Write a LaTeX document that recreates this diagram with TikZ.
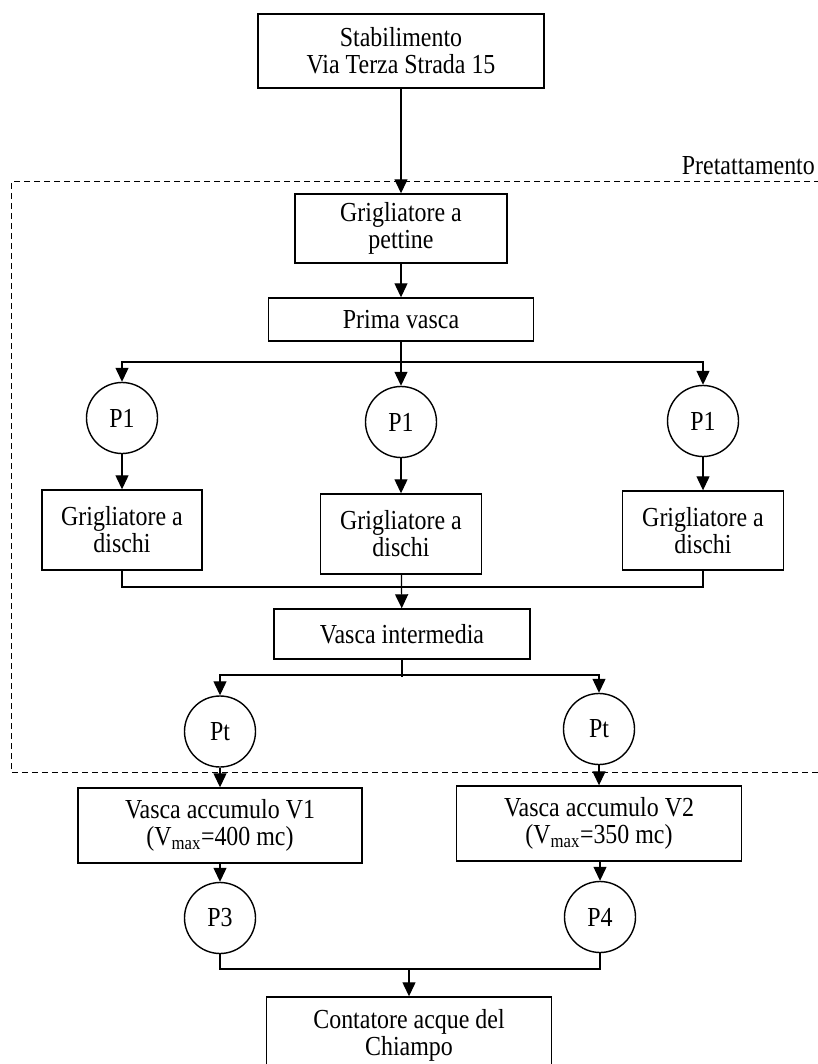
\documentclass[tikz,border=0pt]{standalone}
\usepackage{fontspec}
\setmainfont{Liberation Serif}[FakeStretch=0.87]
\usetikzlibrary{arrows.meta}
\tikzset{
  every node/.style={font=\fontsize{27.5}{27}\selectfont},
  box/.style={draw, line width=1.4pt, rectangle, inner sep=0pt, align=center},
  pump/.style={draw, line width=1.4pt, circle, inner sep=0pt, minimum size=71pt},
  conn/.style={line width=1.2pt},
  arr/.style={conn, -{Triangle[width=13pt,length=14pt]}},
  zone/.style={line width=1pt, dash pattern=on 6pt off 4pt}
}
\begin{document}
\begin{tikzpicture}[x=1pt,y=1pt]
\useasboundingbox (0,0) rectangle (817,-1064);
% nodes
\node[box, minimum width=286pt, minimum height=74pt] (stab) at (401,-51) {Stabilimento\\Via Terza Strada 15};
\node[box, minimum width=212pt, minimum height=69pt] (gpet) at (401,-228.5) {Grigliatore a\\pettine};
\node[box, minimum width=265pt, minimum height=43pt] (prima) at (401,-319.5) {Prima vasca};
\node[pump] (p1a) at (122,-418) {P1};
\node[pump] (p1b) at (401,-422) {P1};
\node[pump] (p1c) at (703,-421) {P1};
\node[box, minimum width=160pt, minimum height=80pt] (gda) at (122,-530) {Grigliatore a\\dischi};
\node[box, minimum width=161pt, minimum height=80pt] (gdb) at (401,-534) {Grigliatore a\\dischi};
\node[box, minimum width=161pt, minimum height=79pt] (gdc) at (703,-530.5) {Grigliatore a\\dischi};
\node[box, minimum width=256pt, minimum height=50pt] (vint) at (402,-634) {Vasca intermedia};
\node[pump] (pta) at (220,-731.5) {Pt};
\node[pump] (ptb) at (599,-729) {Pt};
\node[box, minimum width=284pt, minimum height=75pt] (v1) at (220,-825.5) {Vasca accumulo V1\\(V\textsubscript{max}=400 mc)};
\node[box, minimum width=285pt, minimum height=75pt] (v2) at (599,-823.5) {Vasca accumulo V2\\(V\textsubscript{max}=350 mc)};
\node[pump] (p3) at (220,-918) {P3};
\node[pump] (p4) at (600,-917) {P4};
\node[box, minimum width=285pt, minimum height=76pt] (cont) at (409,-1035) {Contatore acque del\\Chiampo};
% zone
\draw[zone] (820,-182) -- (11,-182) -- (11,-772) -- (820,-772);
\node[anchor=base east, inner sep=0pt] (zlab) at (815,-175) {Pretattamento};
% coordinates
\coordinate (b1) at (401,-362);
\coordinate (m1) at (401,-587);
\coordinate (b2) at (402,-675);
\coordinate (m2) at (409,-969);
% connectors
\draw[arr] (stab) -- (gpet);
\draw[arr] (gpet) -- (prima);
\draw[arr] (prima) -- (p1b);
\draw[arr] (b1) -| (p1a.north);
\draw[arr] (b1) -| (p1c.north);
\draw[arr] (p1a) -- (gda);
\draw[arr] (p1b) -- (gdb);
\draw[arr] (p1c) -- (gdc);
\draw[conn] (gda.south) |- (m1);
\draw[conn] (gdc.south) |- (m1);
\draw[arr] (gdb) -- (vint);
\draw[conn] (vint.south) -- ++(0,-17);
\draw[arr] (b2) -| (pta.north);
\draw[arr] (b2) -| (ptb.north);
\draw[arr] (pta) -- (v1);
\draw[arr] (ptb) -- (v2);
\draw[arr] (v1.south -| p3) -- (p3);
\draw[arr] (v2.south -| p4) -- (p4);
\draw[conn] (p3.south) |- (m2);
\draw[conn] (p4.south) |- (m2);
\draw[arr] (m2) -- (cont);
\end{tikzpicture}
\end{document}
